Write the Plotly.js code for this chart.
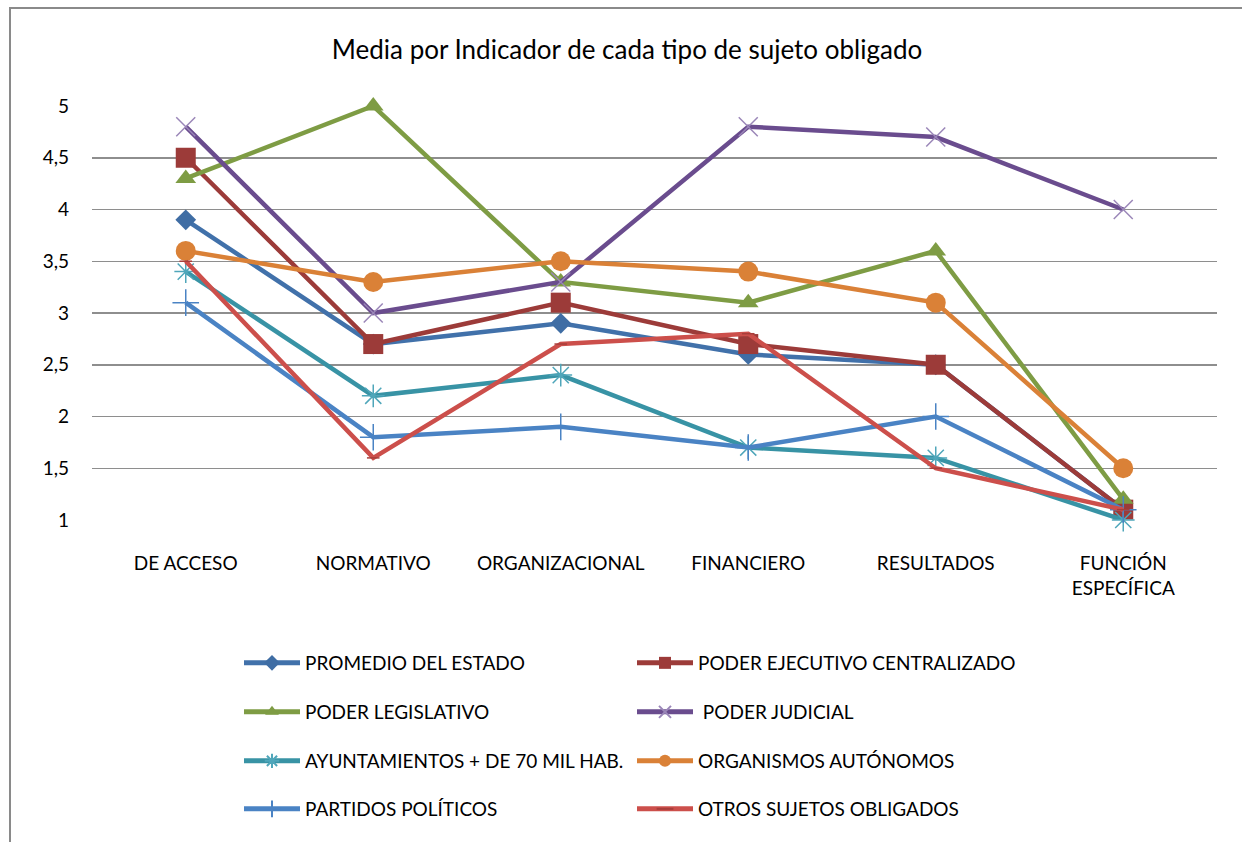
<!DOCTYPE html>
<html>
<head>
<meta charset="utf-8">
<script src="https://cdn.plot.ly/plotly-3.0.1.min.js"></script>
<style>
  html, body { margin: 0; padding: 0; background: #fff; }
  #wrap { position: relative; width: 1242px; height: 842px; overflow: hidden; }
  #chart { position: absolute; left: 0; top: 0; width: 1242px; height: 842px; }
  #bt { position: absolute; left: 9px; top: 7px; width: 1233px; height: 2px; background: #8a8a8a; }
  #bl { position: absolute; left: 9px; top: 7px; width: 2px; height: 835px; background: #8a8a8a; }
</style>
</head>
<body>
<div id="wrap">
  <div id="chart"></div>
  <div id="bt"></div>
  <div id="bl"></div>
</div>
<script>
const categories = ["DE ACCESO", "NORMATIVO", "ORGANIZACIONAL", "FINANCIERO", "RESULTADOS", "FUNCIÓN<br>ESPECÍFICA"];
const seriesNames = [
  "PROMEDIO DEL ESTADO",
  "PODER EJECUTIVO CENTRALIZADO",
  "PODER LEGISLATIVO",
  " PODER JUDICIAL",
  "AYUNTAMIENTOS + DE 70 MIL HAB.",
  "ORGANISMOS AUTÓNOMOS",
  "PARTIDOS POLÍTICOS",
  "OTROS SUJETOS OBLIGADOS"
];
const promedio    = [3.9, 2.7, 2.9, 2.6, 2.5, 1.1];
const ejecutivo   = [4.5, 2.7, 3.1, 2.7, 2.5, 1.1];
const legislativo = [4.3, 5.0, 3.3, 3.1, 3.6, 1.2];
const judicial    = [4.8, 3.0, 3.3, 4.8, 4.7, 4.0];
const ayuntam     = [3.4, 2.2, 2.4, 1.7, 1.6, 1.0];
const organismos  = [3.6, 3.3, 3.5, 3.4, 3.1, 1.5];
const partidos    = [3.1, 1.8, 1.9, 1.7, 2.0, 1.1];
const otros       = [3.5, 1.6, 2.7, 2.8, 1.5, 1.1];
const yTicks = [1, 1.5, 2, 2.5, 3, 3.5, 4, 4.5, 5];

const seriesValues = [promedio, ejecutivo, legislativo, judicial, ayuntam, organismos, partidos, otros];
const lineColors = ["#4171AA", "#9C3B39", "#7E9C44", "#6A4C8E", "#3893A5", "#DA8137", "#4A83C4", "#CC4F4B"];
const markerColors = ["#3F6DA4", "#9C3B39", "#7E9C44", "#9A86B8", "#4FA6BA", "#DA8137", "#4A83C4", "#A83E3B"];
const symbols = ["diamond", "square", "triangle-up", "x-thin-open", "asterisk-open", "circle", "cross-thin-open", "line-ew-open"];
const sizes = [16, 20, 18, 19, 19, 20, 19, 9];
const legendIds = ["legend", "legend", "legend2", "legend2", "legend3", "legend3", "legend4", "legend4"];

const traces = seriesValues.map((vals, i) => ({
  type: "scatter",
  mode: "lines+markers",
  x: categories,
  y: vals,
  name: seriesNames[i],
  legend: legendIds[i],
  cliponaxis: false,
  line: { color: lineColors[i], width: 4.5 },
  marker: {
    symbol: symbols[i],
    size: sizes[i],
    color: markerColors[i],
    line: { color: markerColors[i], width: (symbols[i].indexOf("open") >= 0) ? 1.5 : 0 }
  }
}));

const FAM = "Lato, 'Open Sans', sans-serif";
const font = { family: FAM, size: 19, color: "#000" };
const legendRows = [663, 712, 761, 809];
function mkLegend(row) {
  return {
    orientation: "h",
    xref: "container", yref: "container",
    x: 239 / 1242, xanchor: "left",
    y: 1 - row / 842, yanchor: "middle",
    entrywidth: 322, entrywidthmode: "pixels",
    itemwidth: 56,
    itemsizing: "constant",
    font: font,
    bgcolor: "rgba(0,0,0,0)",
    traceorder: "normal"
  };
}

const layout = {
  width: 1242, height: 842,
  paper_bgcolor: "rgba(0,0,0,0)", plot_bgcolor: "rgba(0,0,0,0)",
  separators: ",.",
  margin: { l: 92, r: 25, t: 106, b: 322 },
  font: font,
  title: {
    text: "Media por Indicador de cada tipo de sujeto obligado",
    font: { family: FAM, size: 26, color: "#000" },
    x: 627 / 1242, xref: "container", xanchor: "center",
    y: 1 - 50 / 842, yref: "container", yanchor: "middle"
  },
  xaxis: {
    type: "category",
    range: [-0.5, 5.5],
    showgrid: false, zeroline: false, showline: false,
    ticks: "", ticklabelstandoff: 30,
    tickfont: font,
    fixedrange: true
  },
  yaxis: {
    range: [1, 5],
    tickvals: yTicks,
    tickformat: ".1~f",
    showgrid: true, gridcolor: "#8e8e8e", gridwidth: 1.5,
    zeroline: false, showline: false,
    ticks: "", ticklabelstandoff: 22,
    tickfont: font,
    fixedrange: true
  },
  legend: mkLegend(legendRows[0]),
  legend2: mkLegend(legendRows[1]),
  legend3: mkLegend(legendRows[2]),
  legend4: mkLegend(legendRows[3]),
  showlegend: true
};

Plotly.newPlot("chart", traces, layout, { displayModeBar: false, staticPlot: true });
</script>
</body>
</html>
